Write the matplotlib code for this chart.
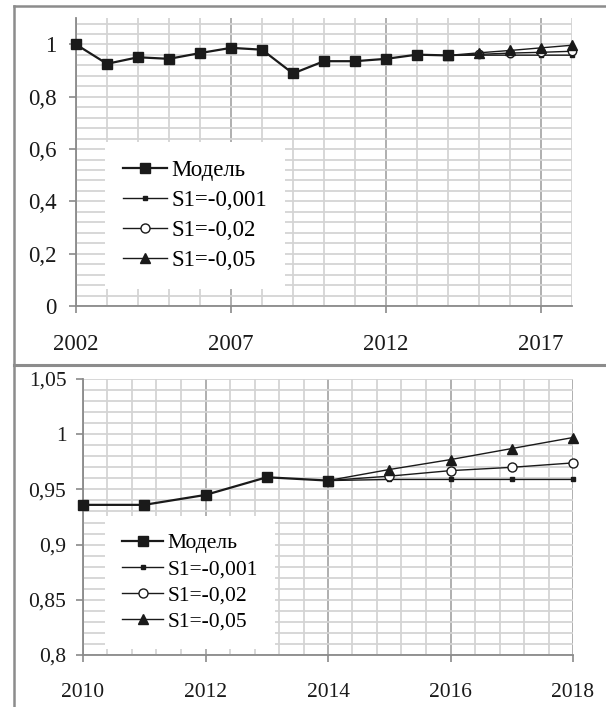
import matplotlib
matplotlib.use("Agg")
import matplotlib.pyplot as plt
from matplotlib.ticker import MultipleLocator, FuncFormatter, FixedLocator
from matplotlib.lines import Line2D

plt.rcParams['font.family'] = ['Liberation Serif', 'DejaVu Serif']

# ---- data ----
years_model = [2002, 2003, 2004, 2005, 2006, 2007, 2008, 2009, 2010, 2011, 2012, 2013, 2014]
model = [1.000, 0.926, 0.951, 0.945, 0.967, 0.987, 0.980, 0.889, 0.936, 0.936, 0.945, 0.961, 0.958]
years_fc = [2014, 2015, 2016, 2017, 2018]
s_001 = [0.958, 0.959, 0.959, 0.959, 0.959]
s_02 = [0.958, 0.962, 0.967, 0.970, 0.974]
s_05 = [0.958, 0.968, 0.977, 0.987, 0.997]
labels = ["Модель", "S1=-0,001", "S1=-0,02", "S1=-0,05"]
top_xticks = [2002, 2007, 2012, 2017]
bottom_xticks = [2010, 2012, 2014, 2016, 2018]

W, H = 606, 707
fig = plt.figure(figsize=(W / 100, H / 100), dpi=100)
fig.patch.set_facecolor('white')

def px_axes(l, r, t, b):
    return fig.add_axes([l / W, 1 - b / H, (r - l) / W, (b - t) / H])

comma = FuncFormatter(lambda v, p: ('%g' % round(v, 4)).replace('.', ','))
LC = '#1a1a1a'
GRID_MINOR = '#d4d4d4'
GRID_MAJOR = '#9a9a9a'
AX = '#8a8a8a'

def style(ax, xmajors, xmin, ymaj, ymin, fs, ypad, xpad):
    for s in ['top', 'right']:
        ax.spines[s].set_visible(False)
    for s in ['left', 'bottom']:
        ax.spines[s].set_color(AX)
        ax.spines[s].set_linewidth(1.3)
    ax.xaxis.set_major_locator(FixedLocator(xmajors))
    ax.xaxis.set_minor_locator(MultipleLocator(xmin))
    ax.yaxis.set_major_locator(MultipleLocator(ymaj))
    ax.yaxis.set_minor_locator(MultipleLocator(ymin))
    ax.yaxis.set_major_formatter(comma)
    ax.grid(which='minor', axis='both', color=GRID_MINOR, lw=1.3, zorder=0)
    ax.grid(which='major', axis='y', color=GRID_MINOR, lw=1.3, zorder=0)
    ax.grid(which='major', axis='x', color=GRID_MAJOR, lw=1.1, zorder=0)
    ax.set_axisbelow(True)
    ax.tick_params(which='major', direction='out', length=5, width=1.2, color=AX,
                   labelsize=fs, labelcolor='#1a1a1a')
    ax.tick_params(axis='y', which='major', pad=ypad)
    ax.tick_params(axis='x', which='major', pad=xpad)
    ax.tick_params(which='minor', length=0)

def within(xs, ys, lo, hi):
    pts = [(x, y) for x, y in zip(xs, ys) if lo <= x <= hi]
    return [p[0] for p in pts], [p[1] for p in pts]

def draw(ax, lo, hi, msq, mtri, mcir):
    ax.plot(*within(years_fc, s_001, lo, hi), color=LC, lw=1.0, marker='s', ms=2.5, zorder=3, clip_on=False)
    ax.plot(*within(years_fc, s_02, lo, hi), color=LC, lw=1.0, marker='o', ms=mcir, mfc='white', mec=LC, mew=1.0, zorder=3, clip_on=False)
    ax.plot(*within(years_fc, s_05, lo, hi), color=LC, lw=1.0, marker='^', ms=mtri, zorder=3, clip_on=False)
    ax.plot(*within(years_model, model, lo, hi), color=LC, lw=1.6, marker='s', ms=msq, zorder=4, clip_on=False)
    ax.set_xlim(lo, hi)

def legend(ax, cx, cy, fs, spacing):
    handles = [
        Line2D([], [], color=LC, lw=1.6, marker='s', ms=7),
        Line2D([], [], color=LC, lw=1.0, marker='s', ms=2.5),
        Line2D([], [], color=LC, lw=1.0, marker='o', ms=6.5, mfc='white', mec=LC),
        Line2D([], [], color=LC, lw=1.0, marker='^', ms=7),
    ]
    lg = ax.legend(handles, labels, loc='center', bbox_to_anchor=(cx / W, 1 - cy / H),
                   bbox_transform=fig.transFigure, fontsize=fs, frameon=True,
                   facecolor='white', edgecolor='none', framealpha=1.0, fancybox=False,
                   handlelength=1.9, handletextpad=0.2, labelspacing=spacing,
                   borderpad=0.8)
    lg.set_zorder(5)

# ---- top panel ----
ax1 = px_axes(76, 572, 18.3, 306)
style(ax1, top_xticks, 1, 0.2, 0.04, 16.5, 9, 15)
draw(ax1, 2002, 2018, 6.5, 7, 6)
ax1.set_ylim(0, 1.1)
ax1.set_yticks([0, 0.2, 0.4, 0.6, 0.8, 1.0])
legend(ax1, 195, 215.5, 16.5, 0.38)

# ---- bottom panel ----
ax2 = px_axes(83, 573, 379, 655)
style(ax2, bottom_xticks, 0.4, 0.05, 0.01, 15.5, 7, 15)
draw(ax2, 2010, 2018, 7, 7.5, 6.5)
ax2.set_ylim(0.8, 1.05)
legend(ax2, 190, 582.5, 15.5, 0.28)

# ---- frame lines ----
FC = '#8c8c8c'
fig.add_artist(Line2D([14 / W, 14 / W], [0, 1 - 6 / H], transform=fig.transFigure, color=FC, lw=1.8))
fig.add_artist(Line2D([14 / W, 1], [1 - 6 / H, 1 - 6 / H], transform=fig.transFigure, color=FC, lw=1.8))
fig.add_artist(Line2D([14 / W, 1], [1 - 365 / H, 1 - 365 / H], transform=fig.transFigure, color=FC, lw=2.2))

fig.savefig('out.png', dpi=100, facecolor='white')
